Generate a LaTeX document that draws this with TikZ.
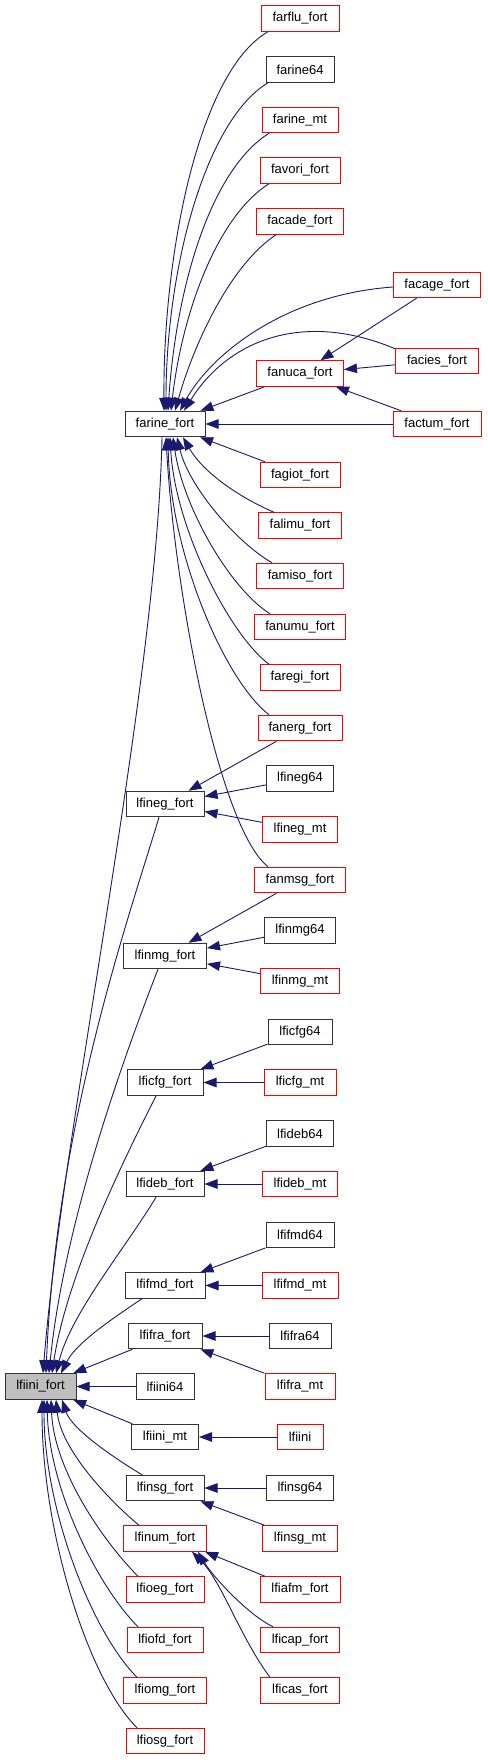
\documentclass[tikz,border=0pt]{standalone}
\usepackage{fontspec}
\setmainfont{Liberation Sans}
\usetikzlibrary{arrows.meta}
\definecolor{mblue}{HTML}{191970}
\definecolor{rootgrey}{HTML}{BFBFBF}
\begin{document}
\begin{tikzpicture}[x=1pt,y=-1pt,
 box/.style={rectangle, minimum height=25.5pt, inner sep=0pt, line width=1pt, font=\fontsize{13}{15}\selectfont, fill=white, text=black},
 rb/.style={box, draw=red},
 kb/.style={box, draw=black!80},
 wd/.style={minimum width=#1pt},
 e/.style={draw=mblue, line width=0.9pt, -{Triangle[length=13pt,width=9.5pt]}},
]
\useasboundingbox[fill=white] (0,0) rectangle (487,1760);
% nodes
\node[rb,wd=78] (farflu) at (300,18.5) {farflu\_fort};
\node[kb,wd=68] (farine64) at (300,69.5) {farine64};
\node[rb,wd=76] (farinemt) at (300,120) {farine\_mt};
\node[rb,wd=80] (favori) at (300,170.5) {favori\_fort};
\node[rb,wd=87] (facade) at (300,221.5) {facade\_fort};
\node[rb,wd=87] (facage) at (437,285) {facage\_fort};
\node[rb,wd=83] (facies) at (437,361) {facies\_fort};
\node[rb,wd=87] (fanuca) at (300,373.5) {fanuca\_fort};
\node[kb,wd=80] (farine) at (165,424) {farine\_fort};
\node[rb,wd=88] (factum) at (437,424) {factum\_fort};
\node[rb,wd=80] (fagiot) at (300,475) {fagiot\_fort};
\node[rb,wd=83] (falimu) at (300,525.5) {falimu\_fort};
\node[rb,wd=87] (famiso) at (300,576) {famiso\_fort};
\node[rb,wd=91] (fanumu) at (300,627) {fanumu\_fort};
\node[rb,wd=80] (faregi) at (300,677.5) {faregi\_fort};
\node[rb,wd=84] (fanerg) at (300,728) {fanerg\_fort};
\node[kb,wd=67] (lfineg64) at (300,778.5) {lfineg64};
\node[kb,wd=78] (lfineg) at (165,804) {lfineg\_fort};
\node[rb,wd=75] (lfinegmt) at (300,829.5) {lfineg\_mt};
\node[rb,wd=91] (fanmsg) at (300,880) {fanmsg\_fort};
\node[kb,wd=71] (lfinmg64) at (300,930.5) {lfinmg64};
\node[kb,wd=83] (lfinmg) at (165,956) {lfinmg\_fort};
\node[rb,wd=79] (lfinmgmt) at (300,981) {lfinmg\_mt};
\node[kb,wd=64] (lficfg64) at (300,1032) {lficfg64};
\node[kb,wd=76] (lficfg) at (165,1082.5) {lficfg\_fort};
\node[rb,wd=72] (lficfgmt) at (300,1082.5) {lficfg\_mt};
\node[kb,wd=67] (lfideb64) at (300,1133.5) {lfideb64};
\node[kb,wd=78] (lfideb) at (165,1184) {lfideb\_fort};
\node[rb,wd=75] (lfidebmt) at (300,1184) {lfideb\_mt};
\node[kb,wd=68] (lfifmd64) at (300,1235) {lfifmd64};
\node[kb,wd=80] (lfifmd) at (165,1285.5) {lfifmd\_fort};
\node[rb,wd=76] (lfifmdmt) at (300,1285.5) {lfifmd\_mt};
\node[kb,wd=74] (lfifra) at (165,1336) {lfifra\_fort};
\node[kb,wd=62] (lfifra64) at (300,1336) {lfifra64};
\node[kb,wd=71,fill=rootgrey] (root) at (40.5,1386.5) {lfiini\_fort};
\node[kb,wd=58] (lfiini64) at (165,1386.5) {lfiini64};
\node[rb,wd=70] (lfiframt) at (300,1386.5) {lfifra\_mt};
\node[kb,wd=67] (lfiinimt) at (165,1437) {lfiini\_mt};
\node[rb,wd=46] (lfiini) at (300,1437) {lfiini};
\node[kb,wd=78] (lfinsg) at (165,1488) {lfinsg\_fort};
\node[kb,wd=67] (lfinsg64) at (300,1488) {lfinsg64};
\node[rb,wd=83] (lfinum) at (165,1538.5) {lfinum\_fort};
\node[rb,wd=75] (lfinsgmt) at (300,1538.5) {lfinsg\_mt};
\node[rb,wd=78] (lfioeg) at (165,1589.5) {lfioeg\_fort};
\node[rb,wd=80] (lfiafm) at (300,1589.5) {lfiafm\_fort};
\node[rb,wd=76] (lfiofd) at (165,1640) {lfiofd\_fort};
\node[rb,wd=79] (lficap) at (300,1640) {lficap\_fort};
\node[rb,wd=83] (lfiomg) at (165,1690.5) {lfiomg\_fort};
\node[rb,wd=79] (lficas) at (300,1690.5) {lficas\_fort};
\node[rb,wd=78] (lfiosg) at (165,1741) {lfiosg\_fort};
% edges into farine_fort (top)
\draw[e] ([xshift=-32pt]farflu.south) .. controls +(-68,39) and +(-1,-161) .. ([xshift=-1pt]farine.north);
\draw[e] ([xshift=-32pt]farine64.south) .. controls +(-63,38) and +(0,-141) .. ([xshift=1pt]farine.north);
\draw[e] ([xshift=-31pt]farinemt.south) .. controls +(-60,38) and +(8,-120) .. ([xshift=3pt]farine.north);
\draw[e] ([xshift=-31pt]favori.south) .. controls +(-55,35) and +(10,-90) .. ([xshift=6pt]farine.north);
\draw[e] ([xshift=-24pt]facade.south) .. controls +(-45,30) and +(20,-70) .. ([xshift=10pt]farine.north);
\draw[e] ([yshift=-2pt]facage.west) .. controls +(-110,8) and +(30,-55) .. ([xshift=15pt]farine.north);
\draw[e] ([yshift=-1pt]facies.north west) .. controls +(-90,-38) and +(45,-72) .. ([xshift=19pt]farine.north);
\draw[e] (fanuca) -- (farine);
\draw[e] (factum) -- (farine);
\draw[e] (facage) -- (fanuca);
\draw[e] (facies) -- (fanuca);
\draw[e] (factum) -- (fanuca);
% edges into farine_fort (bottom)
\draw[e] (fagiot) -- (farine);
\draw[e] ([xshift=-26pt]falimu.north) .. controls +(-35,-15) and +(20,35) .. ([xshift=18pt]farine.south);
\draw[e] ([xshift=-28pt]famiso.north) .. controls +(-35,-20) and +(12,50) .. ([xshift=12pt]farine.south);
\draw[e] ([xshift=-30pt]fanumu.north) .. controls +(-40,-25) and +(10,70) .. ([xshift=8pt]farine.south);
\draw[e] ([xshift=-31pt]faregi.north) .. controls +(-40,-30) and +(5,90) .. ([xshift=5pt]farine.south);
\draw[e] ([xshift=-31pt]fanerg.north) .. controls +(-45,-35) and +(2,115) .. ([xshift=3pt]farine.south);
\draw[e] ([xshift=-32pt]fanmsg.north) .. controls +(-50,-40) and +(8,150) .. ([xshift=1pt]farine.south);
% second level
\draw[e] (fanerg) -- (lfineg);
\draw[e] (lfineg64) -- (lfineg);
\draw[e] (lfinegmt) -- (lfineg);
\draw[e] (fanmsg) -- (lfinmg);
\draw[e] (lfinmg64) -- (lfinmg);
\draw[e] (lfinmgmt) -- (lfinmg);
\draw[e] (lficfg64) -- (lficfg);
\draw[e] (lficfgmt) -- (lficfg);
\draw[e] (lfideb64) -- (lfideb);
\draw[e] (lfidebmt) -- (lfideb);
\draw[e] (lfifmd64) -- (lfifmd);
\draw[e] (lfifmdmt) -- (lfifmd);
\draw[e] (lfifra64) -- (lfifra);
\draw[e] (lfiframt) -- (lfifra);
\draw[e] (lfiini) -- (lfiinimt);
\draw[e] (lfinsg64) -- (lfinsg);
\draw[e] (lfinsgmt) -- (lfinsg);
\draw[e] ([xshift=-35pt]lfiafm.north) -- ([xshift=40pt]lfinum.south);
\draw[e] ([xshift=-27pt]lficap.north) .. controls +(-25,-12) and +(15,25) .. ([xshift=33pt]lfinum.south);
\draw[e] ([xshift=-30pt]lficas.north) .. controls +(-30,-40) and +(30,30) .. ([xshift=27pt]lfinum.south);
% edges into lfiini_fort
\draw[e] ([xshift=-3pt]farine.south) .. controls +(-5,250) and +(20,-250) .. ([xshift=2.5pt]root.north);
\draw[e] ([xshift=-6pt]lfineg.south) .. controls +(-30,100) and +(10,-250) .. ([xshift=5.5pt]root.north);
\draw[e] ([xshift=-7pt]lfinmg.south) .. controls +(-35,90) and +(15,-150) .. ([xshift=8.5pt]root.north);
\draw[e] ([xshift=-9pt]lficfg.south) .. controls +(-30,60) and +(15,-100) .. ([xshift=11.5pt]root.north);
\draw[e] ([xshift=-9pt]lfideb.south) .. controls +(-30,50) and +(15,-60) .. ([xshift=15.5pt]root.north);
\draw[e] ([xshift=-23pt]lfifmd.south) .. controls +(-30,20) and +(15,-30) .. ([xshift=20.5pt]root.north);
\draw[e] (lfifra) -- (root);
\draw[e] (lfiini64) -- (root);
\draw[e] (lfiinimt) -- (root);
\draw[e] ([xshift=-23pt]lfinsg.north) .. controls +(-25,-15) and +(10,30) .. ([xshift=21.5pt]root.south);
\draw[e] ([xshift=-26pt]lfinum.north) .. controls +(-30,-25) and +(5,50) .. ([xshift=15.5pt]root.south);
\draw[e] ([xshift=-27pt]lfioeg.north) .. controls +(-35,-35) and +(3,70) .. ([xshift=10.5pt]root.south);
\draw[e] ([xshift=-27pt]lfiofd.north) .. controls +(-40,-40) and +(2,90) .. ([xshift=6.5pt]root.south);
\draw[e] ([xshift=-28pt]lfiomg.north) .. controls +(-45,-45) and +(0,110) .. ([xshift=3.5pt]root.south);
\draw[e] ([xshift=-28pt]lfiosg.north) .. controls +(-50,-50) and +(0,130) .. ([xshift=1.5pt]root.south);
\end{tikzpicture}
\end{document}
